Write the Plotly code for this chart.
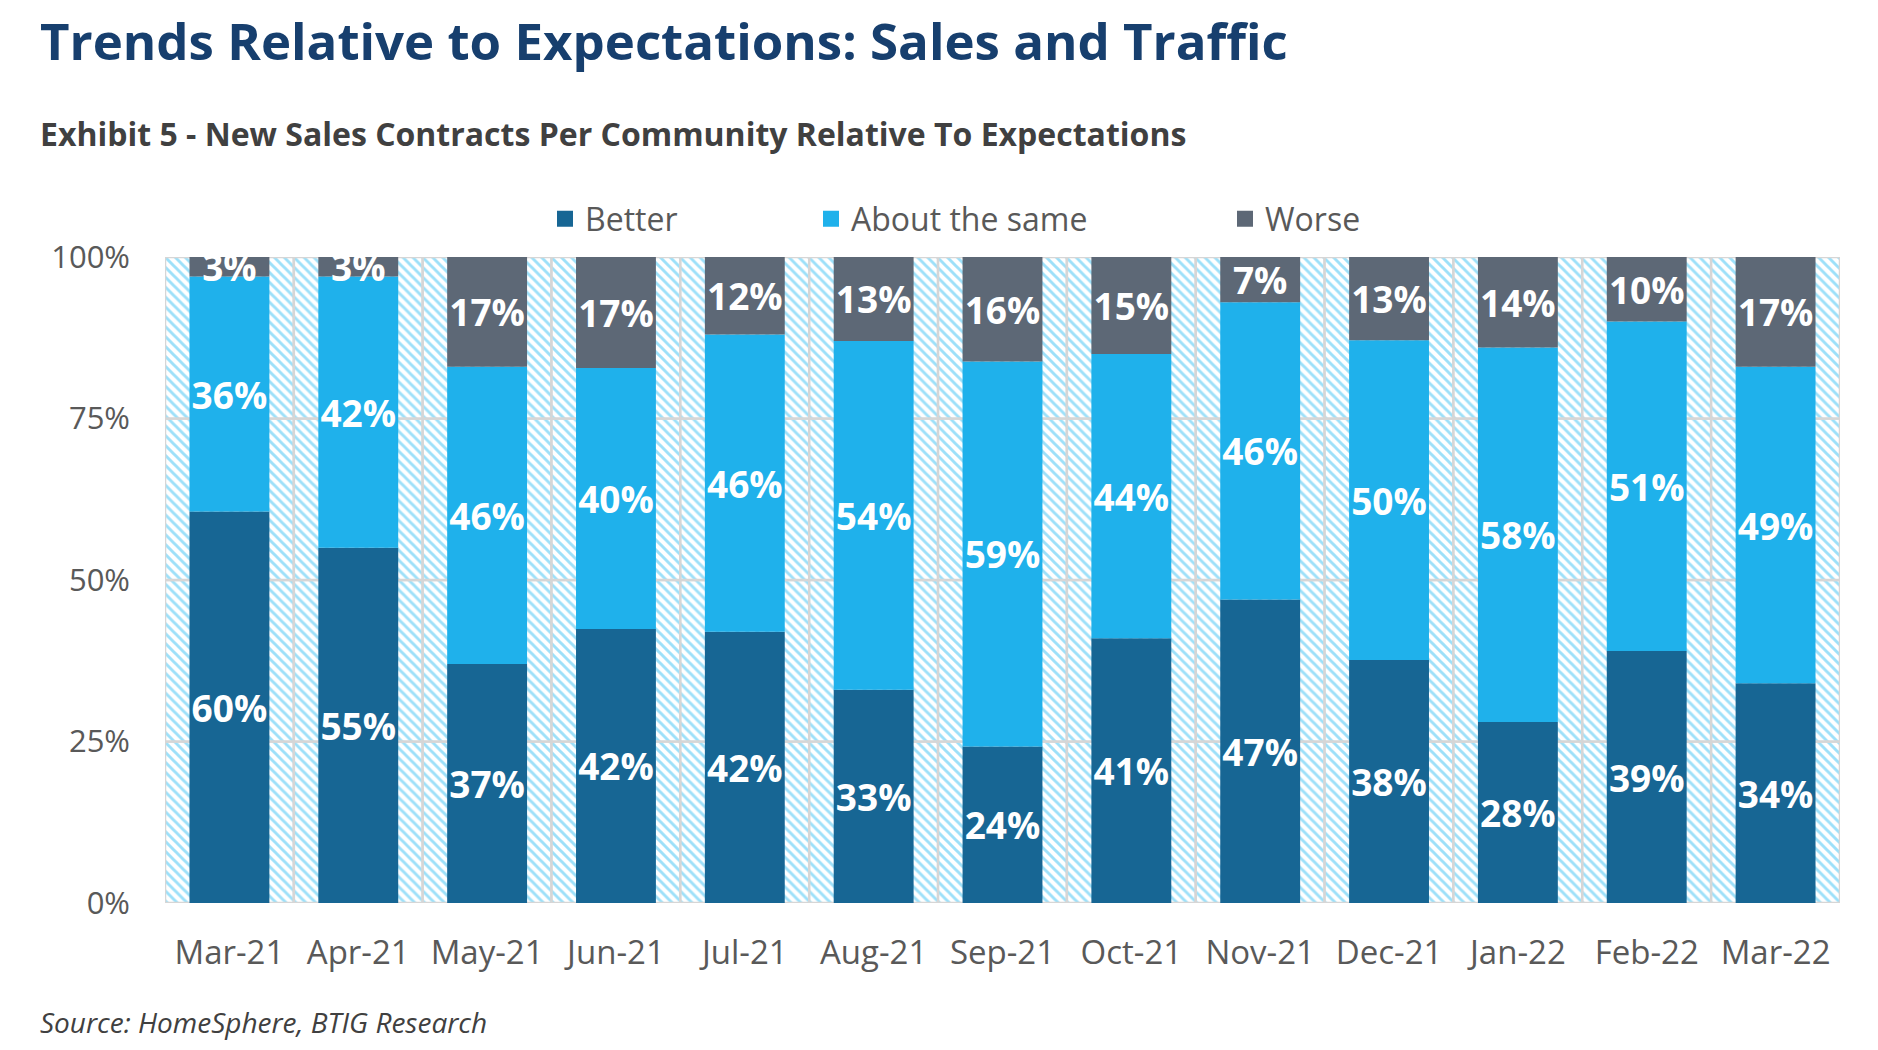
import plotly.graph_objects as go
import numpy as np

months = ["Mar-21", "Apr-21", "May-21", "Jun-21", "Jul-21", "Aug-21", "Sep-21",
          "Oct-21", "Nov-21", "Dec-21", "Jan-22", "Feb-22", "Mar-22"]
better = [60, 55, 37, 42, 42, 33, 24, 41, 47, 38, 28, 39, 34]
same = [36, 42, 46, 40, 46, 54, 59, 44, 46, 50, 58, 51, 49]
worse = [3, 3, 17, 17, 12, 13, 16, 15, 7, 13, 14, 10, 17]
series_names = ["Better", "About the same", "Worse"]
y_ticks = [0, 25, 50, 75, 100]
y_tick_text = ["0%", "25%", "50%", "75%", "100%"]

title = "Trends Relative to Expectations: Sales and Traffic"
subtitle = "Exhibit 5 - New Sales Contracts Per Community Relative To Expectations"
source = "Source: HomeSphere, BTIG Research"

# ---- layout geometry (pixels) ----
W, H = 1878, 1050
ML, MR, MT, MB = 165, 38, 257, 147
PW, PH = W - ML - MR, H - MT - MB


def px_x(x):
    return (x - ML) / PW


def px_y(y):
    return (H - MB - y) / PH


colors = ["#176694", "#1fb1eb", "#5d6876"]
BODY_FONT = "Open Sans"
GREY = "#595959"

values = [np.array(better, float), np.array(same, float), np.array(worse, float)]
totals = values[0] + values[1] + values[2]
shares = [v / totals * 100 for v in values]
bases = [np.zeros(len(months)), shares[0], shares[0] + shares[1]]

fig = go.Figure()

# hatched background bands (one per gridline interval)
bg_x, bg_base, bg_y = [], [], []
for lo, hi in zip(y_ticks[:-1], y_ticks[1:]):
    bg_x += months
    bg_base += [lo] * len(months)
    bg_y += [hi - lo] * len(months)

fig.add_trace(go.Bar(
    x=bg_x, y=bg_y, base=bg_base, width=1.0, showlegend=False, hoverinfo="skip",
    marker=dict(color="white",
                pattern=dict(shape="\\", fgcolor="#3cc2f4", bgcolor="white", size=7, solidity=0.42),
                line=dict(color="#d6d6d6", width=2.5)),
))

legend_names = ["legend", "legend2", "legend3"]
for name, val, sh, base, col, lg in zip(series_names, values, shares, bases, colors, legend_names):
    fig.add_trace(go.Bar(
        x=months, y=sh, base=base, name=name, width=0.62, showlegend=False,
        marker=dict(color=col, line=dict(width=0)),
        text=[f"{int(v)}%" for v in val], textposition="inside", insidetextanchor="middle",
        textangle=0, cliponaxis=False,
        textfont=dict(color="white", size=37, family=BODY_FONT, weight="bold"),
    ))
    # legend entry (square swatch)
    fig.add_trace(go.Scatter(
        x=[None], y=[None], mode="markers", name=name, legend=lg, showlegend=True,
        marker=dict(symbol="square", size=20, color=col),
    ))

legend_text_x = [585, 851, 1265]
legend_common = dict(orientation="h", yanchor="middle", xanchor="left", y=px_y(219),
                     font=dict(size=32, color=GREY, family=BODY_FONT), itemwidth=30,
                     bgcolor="rgba(0,0,0,0)", borderwidth=0)

fig.update_layout(
    width=W, height=H, barmode="overlay",
    margin=dict(l=ML, r=MR, t=MT, b=MB, autoexpand=False),
    paper_bgcolor="white", plot_bgcolor="white",
    uniformtext=dict(minsize=37, mode="show"),
    legend=dict(x=px_x(legend_text_x[0] - 40), **legend_common),
    legend2=dict(x=px_x(legend_text_x[1] - 40), **legend_common),
    legend3=dict(x=px_x(legend_text_x[2] - 40), **legend_common),
    xaxis=dict(type="category", range=[-0.5, len(months) - 0.5], showgrid=False, zeroline=False,
               showline=False, ticks="", ticklabelstandoff=27,
               tickfont=dict(size=33, color=GREY, family=BODY_FONT)),
    yaxis=dict(range=[0, 100], tickvals=y_ticks, ticktext=y_tick_text, showgrid=False,
               zeroline=False, showline=False, ticks="", ticklabelstandoff=34,
               tickfont=dict(size=31, color=GREY, family=BODY_FONT)),
    annotations=[
        dict(text=title, xref="paper", yref="paper", x=px_x(38), y=px_y(40),
             xanchor="left", yanchor="middle", showarrow=False,
             font=dict(size=51, color="#173f6e", family=BODY_FONT, weight="bold")),
        dict(text=subtitle, xref="paper", yref="paper", x=px_x(38), y=px_y(133),
             xanchor="left", yanchor="middle", showarrow=False,
             font=dict(size=32, color="#404040", family=BODY_FONT, weight="bold")),
        dict(text=source, xref="paper", yref="paper", x=px_x(38), y=px_y(1022),
             xanchor="left", yanchor="middle", showarrow=False,
             font=dict(size=28, color="#404040", family=BODY_FONT, style="italic")),
    ],
)

fig.write_html("out.html")
